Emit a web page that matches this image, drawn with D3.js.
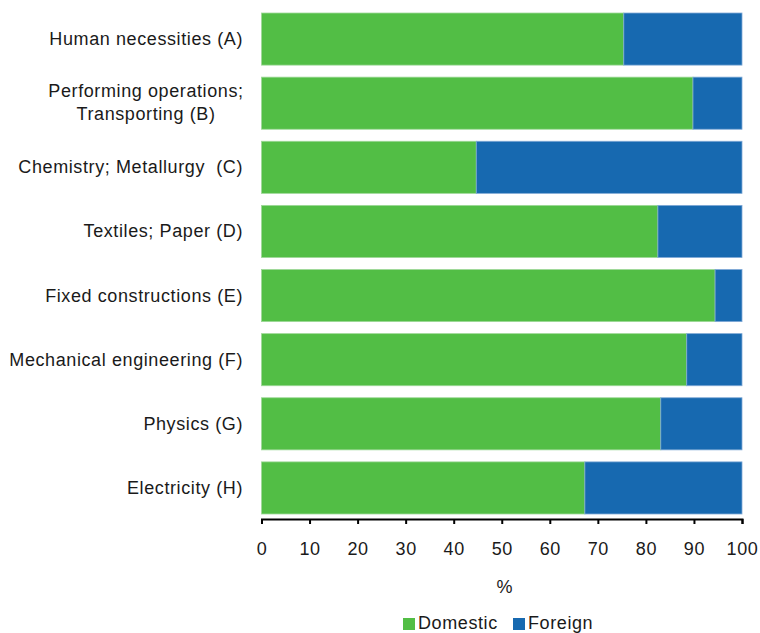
<!DOCTYPE html>
<html><head><meta charset="utf-8">
<script src="https://cdn.jsdelivr.net/npm/d3@7"></script>
<style>body{margin:0;background:#fff}svg{display:block}text{font-family:"Liberation Sans",Arial,sans-serif;fill:#1a1a1a;letter-spacing:0.6px}</style>
</head><body>
<svg id="c" width="760" height="633"></svg>
<script>
const categories = ["Human necessities (A)", "Performing operations;\nTransporting (B)", "Chemistry; Metallurgy  (C)", "Textiles; Paper (D)", "Fixed constructions (E)", "Mechanical engineering (F)", "Physics (G)", "Electricity (H)"];
const domestic = [75.4, 89.8, 44.7, 82.5, 94.4, 88.5, 83.1, 67.3];
const foreign = domestic.map(d => 100 - d);
const seriesNames = ["Domestic", "Foreign"];
const colors = ["#52BE45", "#1769B0"];
const strokes = ["#9ED898", "#7FA9D6"];
const xTicks = [0,10,20,30,40,50,60,70,80,90,100];

const FS = 18;
const svg = d3.select("#c");
const x = d3.scaleLinear().domain([0,100]).range([261.5, 742]);
const y = d3.scaleBand().domain(categories).range([7, 520]).paddingInner(0.1875).paddingOuter(0.09375);

const rows = categories.map((c,i) => ({c, vals:[domestic[i], foreign[i]]}));
const g = svg.append("g");
rows.forEach(r => {
  let acc = 0;
  r.vals.forEach((v,j) => {
    g.append("rect").attr("x", x(acc)).attr("y", y(r.c)).attr("width", x(acc+v)-x(acc)).attr("height", y.bandwidth())
      .attr("fill", colors[j]).attr("stroke", strokes[j]).attr("stroke-width", 0.8);
    acc += v;
  });
});

// category labels
categories.forEach(c => {
  const lines = c.split("\n");
  const cy = y(c) + y.bandwidth()/2;
  const t = svg.append("text").attr("font-size",FS).attr("xml:space","preserve");
  if (lines.length === 1) {
    t.append("tspan").attr("x", 243).attr("text-anchor","end").attr("y", cy + 6).text(lines[0]);
  } else {
    lines.forEach((l,i) => {
      t.append("tspan").attr("x", 146).attr("text-anchor","middle").attr("y", cy - 6 + i*23).text(l);
    });
  }
});

// x axis
const ax = svg.append("g").attr("transform","translate(0,519)")
  .call(d3.axisBottom(x).tickValues(xTicks).tickSize(5).tickSizeOuter(5).tickFormat(d3.format("d")));
ax.select(".domain").attr("stroke","#000").attr("stroke-width",2);
ax.selectAll(".tick line").attr("stroke","#000").attr("stroke-width",2);
ax.selectAll(".tick text").attr("font-size",FS).attr("font-family","Liberation Sans, Arial, sans-serif").attr("fill","#1a1a1a").attr("dy",0).attr("y",36);

svg.append("text").attr("x", x(50)+3).attr("y", 593).attr("text-anchor","middle").attr("font-size",FS).text("%");

// legend
const leg = [{n:seriesNames[0], c:colors[0], x:403}, {n:seriesNames[1], c:colors[1], x:513}];
leg.forEach(l => {
  svg.append("rect").attr("x", l.x).attr("y", 618).attr("width", 12).attr("height", 12).attr("fill", l.c);
  svg.append("text").attr("x", l.x+15).attr("y", 629).attr("font-size",FS).text(l.n);
});
</script>
</body></html>
